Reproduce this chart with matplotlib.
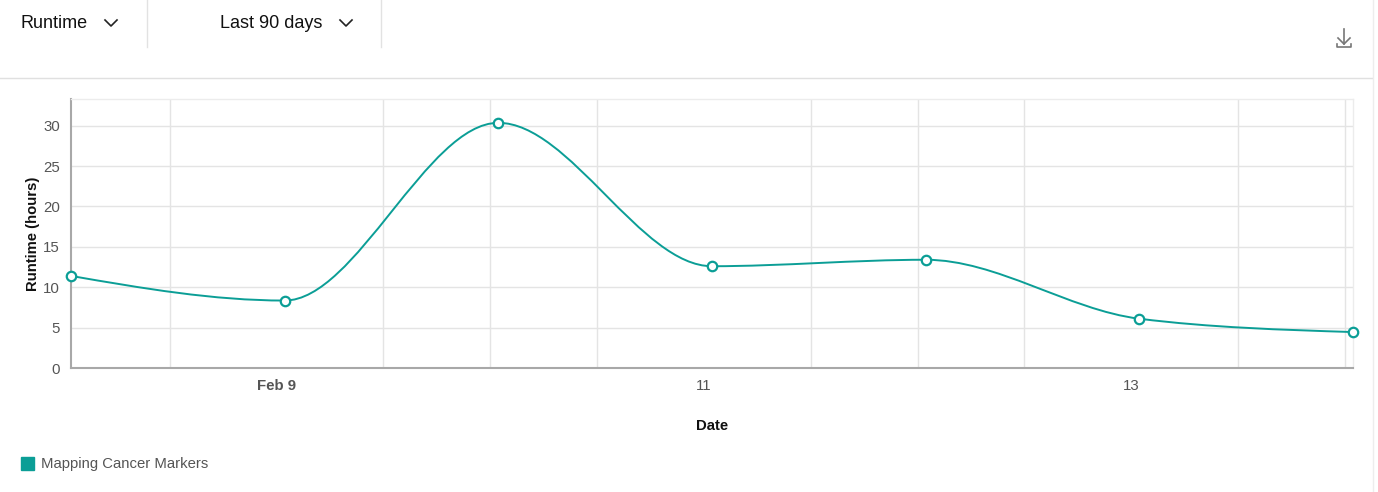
import matplotlib
matplotlib.use("Agg")
import matplotlib.pyplot as plt
import matplotlib.dates as mdates
from matplotlib.path import Path
from matplotlib.patches import PathPatch, Rectangle
import numpy as np
import datetime as dt

plt.rcParams['font.family'] = ['Liberation Sans', 'DejaVu Sans']

# ---- data ----
dates = ["2024-02-08 00:54", "2024-02-09 00:54", "2024-02-10 00:54", "2024-02-11 00:54",
         "2024-02-12 00:54", "2024-02-13 00:54", "2024-02-14 00:54"]
runtime_hours = [11.4, 8.35, 30.35, 12.6, 13.4, 6.1, 4.45]
series_name = "Mapping Cancer Markers"
y_ticks = [0, 5, 10, 15, 20, 25, 30]
x_tick_dates = ["2024-02-09", "2024-02-11", "2024-02-13"]
x_tick_labels = ["Feb 9", "11", "13"]

TEAL = "#0b9e96"
W, H = 1378, 492
fig = plt.figure(figsize=(W / 100, H / 100), dpi=100)

# ---- top bar ----
def fx(px):
    return px / W
def fy(py):
    return 1 - py / H

fig.text(fx(20), fy(23), "Runtime", fontsize=13, color="#111", va="center", ha="left")
fig.text(fx(220), fy(23), "Last 90 days", fontsize=13, color="#111", va="center", ha="left")
for cx in (111, 346):
    fig.add_artist(plt.Line2D([fx(cx - 6), fx(cx), fx(cx + 6)], [fy(20), fy(26), fy(20)],
                              color="#222", lw=1.2, transform=fig.transFigure))
for sx in (147, 381):
    fig.add_artist(plt.Line2D([fx(sx), fx(sx)], [fy(0), fy(47)], color="#e2e2e2", lw=1,
                              transform=fig.transFigure))
fig.add_artist(plt.Line2D([0, fx(1372)], [fy(78), fy(78)], color="#e0e0e0", lw=1,
                          transform=fig.transFigure))
fig.add_artist(plt.Line2D([fx(1372.5), fx(1372.5)], [0, 1], color="#ededed", lw=1,
                          transform=fig.transFigure))
# download icon
ic = "#777"
fig.add_artist(plt.Line2D([fx(1344), fx(1344)], [fy(29), fy(44)], color=ic, lw=1.2, transform=fig.transFigure))
fig.add_artist(plt.Line2D([fx(1338), fx(1344), fx(1350)], [fy(38), fy(44), fy(38)], color=ic, lw=1.2,
                          transform=fig.transFigure))
fig.add_artist(plt.Line2D([fx(1337), fx(1337), fx(1351), fx(1351)], [fy(44), fy(47), fy(47), fy(44)],
                          color=ic, lw=1.2, transform=fig.transFigure))

# ---- chart ----
ax = fig.add_axes([fx(71), fy(368), fx(1353) - fx(71), fy(99) - fy(368)])
xd = mdates.date2num([dt.datetime.strptime(d, "%Y-%m-%d %H:%M") for d in dates])
y = np.array(runtime_hours, dtype=float)

# monotone cubic (d3 curveMonotoneX) drawn as bezier segments
h = np.diff(xd)
s = np.diff(y) / h
t = np.zeros_like(y)
for i in range(1, len(y) - 1):
    s0, s1 = s[i - 1], s[i]
    p = (s0 * h[i] + s1 * h[i - 1]) / (h[i - 1] + h[i])
    t[i] = (np.sign(s0) + np.sign(s1)) * min(abs(s0), abs(s1), 0.5 * abs(p))
t[0] = (3 * s[0] - t[1]) / 2
t[-1] = (3 * s[-1] - t[-2]) / 2
verts = [(xd[0], y[0])]
codes = [Path.MOVETO]
for i in range(len(y) - 1):
    d = h[i] / 3
    verts += [(xd[i] + d, y[i] + d * t[i]), (xd[i + 1] - d, y[i + 1] - d * t[i + 1]), (xd[i + 1], y[i + 1])]
    codes += [Path.CURVE4] * 3
ax.add_patch(PathPatch(Path(verts, codes), facecolor="none", edgecolor=TEAL, lw=1.4, zorder=3,
                       clip_on=False))
ax.plot(xd, y, ls="none", marker="o", ms=6.8, mfc="white", mec=TEAL, mew=1.6, zorder=4, clip_on=False)

ax.set_xlim(xd[0], xd[-1])
ax.set_ylim(0, 33.3)
ax.set_yticks(y_ticks)
ax.set_yticklabels([str(v) for v in y_ticks])
tick_x = mdates.date2num([dt.datetime.strptime(d, "%Y-%m-%d") for d in x_tick_dates])
ax.set_xticks(tick_x)
ax.set_xticklabels(x_tick_labels)
ax.xaxis.set_minor_locator(mdates.HourLocator(byhour=[0, 12]))
ax.grid(True, which="major", axis="y", color="#e4e4e4", lw=1)
ax.grid(True, which="minor", axis="x", color="#e4e4e4", lw=1)
ax.set_axisbelow(True)
ax.tick_params(axis="both", which="both", length=0)
ax.tick_params(axis="y", labelsize=10.8, labelcolor="#555", pad=8)
ax.tick_params(axis="x", labelsize=10.8, labelcolor="#555", pad=8)
ax.get_xticklabels()[0].set_fontweight("bold")
for sp in ("left", "bottom"):
    ax.spines[sp].set_color("#a8a8a8")
    ax.spines[sp].set_linewidth(1.5)
for sp in ("top", "right"):
    ax.spines[sp].set_color("#ececec")
    ax.spines[sp].set_linewidth(1)
ax.set_ylabel("Runtime (hours)", fontsize=10.7, fontweight="bold", color="#111", labelpad=2)
ax.set_xlabel("Date", fontsize=10.7, fontweight="bold", color="#111", labelpad=19)

# legend
fig.add_artist(Rectangle((fx(21), fy(470)), fx(34) - fx(21), fy(457) - fy(470), color=TEAL,
                         transform=fig.transFigure))
fig.text(fx(41), fy(464), series_name, fontsize=10.7, color="#555", va="center", ha="left")

fig.savefig("out.png", dpi=100)
